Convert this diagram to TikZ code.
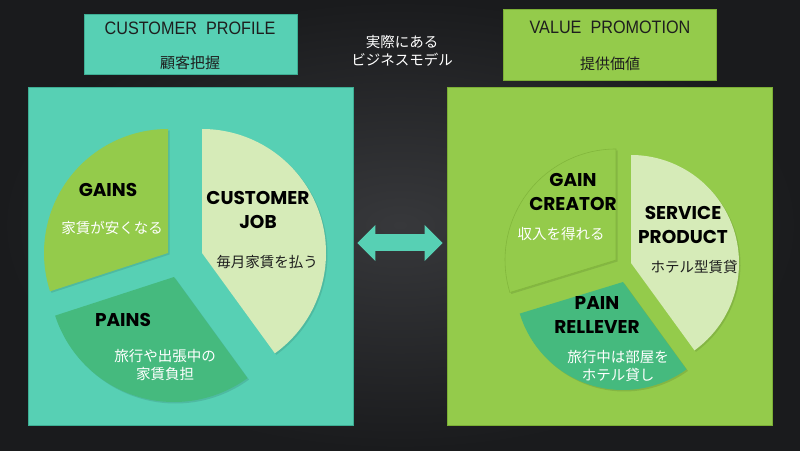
\documentclass[tikz,border=0pt]{standalone}
\usepackage{fontspec}
\newfontfamily\jpfont{Noto Sans CJK JP}
\newfontfamily\etqfont{Poppins}
\newfontfamily\cabfont[FakeStretch=0.9]{Liberation Sans}
\usetikzlibrary{positioning,arrows.meta,calc}
\definecolor{cfondoc}{HTML}{37383B}
\definecolor{cfondo}{HTML}{1A1B1D}
\definecolor{cturquesa}{HTML}{57D0B4}
\definecolor{cturquesab}{HTML}{3DAE94}
\definecolor{clima}{HTML}{94CB4B}
\definecolor{climab}{HTML}{7BAF35}
\definecolor{cpalido}{HTML}{D6EBB8}
\definecolor{cverde}{HTML}{45BA7E}
\definecolor{ctexto}{HTML}{1E1E1E}
\tikzset{
  cajat/.style={rectangle, draw=cturquesab, fill=cturquesa, line width=0.8pt, inner sep=0pt},
  cajal/.style={rectangle, draw=climab, fill=clima, line width=0.8pt, inner sep=0pt},
  cab/.style={font=\cabfont\fontsize{18}{20}\selectfont, text=ctexto},
  cabjp/.style={font=\jpfont\fontsize{15}{17}\selectfont, text=ctexto},
  etq/.style={font=\etqfont\bfseries\fontsize{18.5}{24}\selectfont, text=black, align=center},
  desc/.style={font=\jpfont\fontsize{14.5}{18}\selectfont, align=center},
  sombra/.style={fill=black, fill opacity=0.10},
  flecha/.style={line width=17pt, draw=cturquesa,
    {Triangle[width=35pt,length=18pt]}-{Triangle[width=35pt,length=18pt]},
    shorten <=4pt, shorten >=4pt},
}

\begin{document}
\begin{tikzpicture}[x=1pt, y=1pt]
  \useasboundingbox (0,0) rectangle (800,450);
  \shade[inner color=cfondoc, outer color=cfondo] (0,0) rectangle (800,450);

  % cabeceras
  \node[cajat, minimum width=213pt, minimum height=60pt] (perfil) at (190.5,406) {};
  \node[cab] (perfilt) at (190,422) {CUSTOMER\ \ PROFILE};
  \node[cabjp] (perfilj) at (190,387) {顧客把握};
  \node[cajal, minimum width=213pt, minimum height=71pt] (valor) at (609.5,405.5) {};
  \node[cab] (valort) at (610,423) {VALUE\ \ PROMOTION};
  \node[cabjp] (valorj) at (610,386) {提供価値};
  \node[desc, text=white] (modelo) at (402,399) {実際にある\\ビジネスモデル};

  % cajas grandes
  \node[cajat, minimum width=325pt, minimum height=338pt] (cliente) at (190.5,194) {};
  \node[cajal, minimum width=325pt, minimum height=338pt] (propuesta) at (609.5,194) {};
  \draw[flecha] ([yshift=13pt]cliente.east) -- ([yshift=13pt]propuesta.west);

  % perfil del cliente
  \fill[sombra] (203.5,195.5) -- ++(-54:124) arc[start angle=-54, end angle=90, radius=124] -- cycle;
  \fill[sombra] (169.5,195.5) -- ++(90:124) arc[start angle=90, end angle=198, radius=124] -- cycle;
  \fill[sombra] (175.5,171.5) -- ++(198:125) arc[start angle=198, end angle=306, radius=125] -- cycle;
  \fill[cpalido] (202,197) -- ++(-54:124) arc[start angle=-54, end angle=90, radius=124] -- cycle;
  \fill[clima] (168,197) -- ++(90:124) arc[start angle=90, end angle=198, radius=124] -- cycle;
  \fill[cverde] (174,173) -- ++(198:125) arc[start angle=198, end angle=306, radius=125] -- cycle;

  \node[etq] (gains) at (108,260) {GAINS};
  \node[desc, text=white] (gainsd) at (112,222) {家賃が安くなる};
  \node[etq] (job) at (258,240.5) {CUSTOMER\\JOB};
  \node[desc, text=ctexto] (jobd) at (267,188) {毎月家賃を払う};
  \node[etq] (pains) at (123,130) {PAINS};
  \node[desc, text=white] (painsd) at (165,85) {旅行や出張中の\\家賃負担};

  % propuesta de valor
  \fill[sombra] (632.5,185.5) -- ++(-54:108) arc[start angle=-54, end angle=90, radius=108] -- cycle;
  \fill[sombra] (617.5,188.5) -- ++(90:111) arc[start angle=90, end angle=197, radius=111] -- cycle;
  \fill[sombra] (624.5,166.5) -- ++(197:108) arc[start angle=197, end angle=306, radius=108] -- cycle;
  \fill[cpalido] (631,187) -- ++(-54:108) arc[start angle=-54, end angle=90, radius=108] -- cycle;
  \filldraw[fill=clima, draw=climab!70!clima, line width=0.6pt] (616,190) -- ++(90:111) arc[start angle=90, end angle=197, radius=111] -- cycle;
  \fill[cverde] (623,168) -- ++(197:108) arc[start angle=197, end angle=306, radius=108] -- cycle;

  \node[etq] (creador) at (573,258) {GAIN\\CREATOR};
  \node[desc, text=white] (creadord) at (561,216) {収入を得れる};
  \node[etq] (servicio) at (683,225) {SERVICE\\PRODUCT};
  \node[desc, text=ctexto] (serviciod) at (694,183) {ホテル型賃貸};
  \node[etq] (alivio) at (597,135) {PAIN\\RELLEVER};
  \node[desc, text=white] (aliviod) at (618,84) {旅行中は部屋を\\ホテル貸し};
\end{tikzpicture}
\end{document}
